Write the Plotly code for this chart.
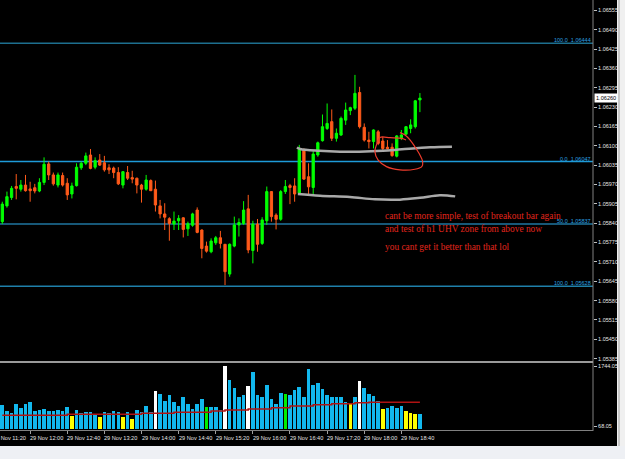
import plotly.graph_objects as go

# ---------------- data ----------------
bar_index = list(range(91))
opens = [1.05845,1.05898,1.05926,1.05963,1.05954,1.05968,1.05955,1.05959,1.05948,1.05977,
         1.06039,1.06002,1.05968,1.06000,1.05974,1.05938,1.05966,1.06026,1.06041,1.06069,
         1.06028,1.06052,1.06043,1.06026,1.06025,1.06010,1.05968,1.06010,1.05993,1.05991,
         1.05968,1.05954,1.05983,1.05954,1.05898,1.05871,1.05855,1.05837,1.05848,1.05858,
         1.05821,1.05833,1.05884,1.05817,1.05763,1.05744,1.05774,1.05791,1.05769,1.05669,
         1.05763,1.05834,1.05839,1.05888,1.05748,1.05837,1.05772,1.05848,1.05946,1.05867,
         1.05853,1.05946,1.05966,1.05965,1.05940,1.06086,1.05996,1.05960,1.06069,1.06117,
         1.06158,1.06181,1.06125,1.06136,1.06186,1.06218,1.06226,1.06279,1.06162,1.06119,
         1.06114,1.06147,1.06116,1.06095,1.06095,1.06065,1.06125,1.06139,1.06158,1.06164,
         1.06254]
highs = [1.05912,1.05946,1.05965,1.06005,1.05985,1.06002,1.05979,1.05972,1.05991,1.06061,
         1.06047,1.06010,1.06010,1.06010,1.05991,1.05976,1.06041,1.06047,1.06077,1.06089,
         1.06061,1.06072,1.06066,1.06038,1.06030,1.06028,1.06015,1.06032,1.06016,1.05993,
         1.05972,1.06002,1.05987,1.05983,1.05918,1.05907,1.05860,1.05879,1.05867,1.05860,
         1.05845,1.05875,1.05893,1.05819,1.05778,1.05789,1.05797,1.05814,1.05770,1.05772,
         1.05862,1.05856,1.05914,1.05935,1.05848,1.05854,1.05860,1.05963,1.05948,1.05873,
         1.05951,1.05985,1.05972,1.05991,1.06103,1.06091,1.06041,1.06084,1.06114,1.06205,
         1.06242,1.06222,1.06158,1.06198,1.06245,1.06231,1.06338,1.06298,1.06175,1.06147,
         1.06155,1.06153,1.06130,1.06119,1.06108,1.06136,1.06153,1.06166,1.06189,1.06254,
         1.06277]
lows = [1.05837,1.05892,1.05918,1.05920,1.05946,1.05946,1.05912,1.05940,1.05944,1.05968,
        1.05985,1.05966,1.05960,1.05963,1.05918,1.05923,1.05963,1.06019,1.06035,1.06021,
        1.06021,1.06032,1.06013,1.06005,1.05991,1.05968,1.05957,1.05985,1.05974,1.05940,
        1.05909,1.05949,1.05948,1.05879,1.05856,1.05817,1.05781,1.05817,1.05817,1.05792,
        1.05797,1.05828,1.05806,1.05722,1.05741,1.05739,1.05767,1.05755,1.05632,1.05660,
        1.05759,1.05795,1.05834,1.05739,1.05705,1.05744,1.05767,1.05834,1.05845,1.05819,
        1.05848,1.05938,1.05904,1.05912,1.05938,1.05985,1.05935,1.05935,1.06063,1.06114,
        1.06153,1.06116,1.06114,1.06133,1.06170,1.06203,1.06220,1.06158,1.06114,1.06091,
        1.06091,1.06102,1.06086,1.06088,1.06063,1.06061,1.06119,1.06136,1.06142,1.06158,
        1.06213]
closes = [1.05904,1.05929,1.05957,1.05957,1.05968,1.05949,1.05949,1.05948,1.05977,1.06038,
          1.06002,1.05972,1.06002,1.05968,1.05935,1.05965,1.06028,1.06041,1.06066,1.06024,
          1.06050,1.06035,1.06019,1.06019,1.06010,1.05972,1.06013,1.05991,1.05988,1.05968,
          1.05954,1.05985,1.05949,1.05901,1.05871,1.05860,1.05839,1.05847,1.05856,1.05819,
          1.05838,1.05871,1.05809,1.05755,1.05746,1.05780,1.05791,1.05772,1.05677,1.05769,
          1.05834,1.05842,1.05884,1.05750,1.05837,1.05769,1.05851,1.05946,1.05862,1.05853,
          1.05946,1.05963,1.05960,1.05938,1.06091,1.05988,1.05962,1.06072,1.06110,1.06164,
          1.06175,1.06125,1.06142,1.06192,1.06220,1.06228,1.06276,1.06164,1.06119,1.06114,
          1.06153,1.06108,1.06091,1.06090,1.06067,1.06133,1.06136,1.06164,1.06170,1.06251,
          1.06260]

volumes = [664,508,452,692,591,692,738,508,526,563,489,489,526,489,618,369,526,452,461,480,
           388,323,461,434,498,461,323,461,277,526,461,637,461,1043,969,784,932,738,646,877,
           701,554,683,821,600,600,618,526,1744,1357,1144,895,932,1190,1587,941,886,1209,840,701,
           1006,978,932,1089,1172,895,1661,1209,1264,1107,950,895,886,877,747,711,886,1320,1135,978,
           914,784,563,591,637,591,637,498,452,424,424]
vol_kind = ["b"] * 91
for k in (15, 21, 26, 28, 75, 82, 87, 88, 89):
    vol_kind[k] = "y"
for k in (33, 48, 53, 77):
    vol_kind[k] = "w"
for k in (44, 61):
    vol_kind[k] = "g"

vol_avg = ([378] * 14 + [406] * 16 + [434] * 7 + [461] * 8 + [498] * 3 + [526] * 5 +
           [554] * 5 + [591] * 4 + [637] * 5 + [674] * 4 + [701] * 5 + [729] * 3 + [738] * 12)

price_ticks = [1.06555, 1.06490, 1.06425, 1.06360, 1.06295, 1.06230, 1.06165, 1.06100,
               1.06035, 1.05970, 1.05905, 1.05840, 1.05775, 1.05710, 1.05645, 1.05580,
               1.05515, 1.05450, 1.05385]
vol_ticks = [1744.05, 68.05]
last_price = 1.06260

time_tick_index = [-2, 6, 14, 22, 30, 38, 46, 54, 62, 70, 78, 86]
time_tick_labels = ["29 Nov 11:20", "29 Nov 12:00", "29 Nov 12:40", "29 Nov 13:20",
                    "29 Nov 14:00", "29 Nov 14:40", "29 Nov 15:20", "29 Nov 16:00",
                    "29 Nov 16:40", "29 Nov 17:20", "29 Nov 18:00", "29 Nov 18:40"]

fibo_levels = [1.06444, 1.06047, 1.05837, 1.05628]
fibo_names = ["100.0", "0.0", "50.0", "100.0"]

# hand drawn marks (bar index, price)
upper_x = [63.5, 64.2, 68.3, 72.8, 76.9, 82.0, 86.1, 92.2, 96.9]
upper_y = [1.06094, 1.06089, 1.06083, 1.06080, 1.06080, 1.06083, 1.06088, 1.06095, 1.06097]
lower_x = [63.7, 68.5, 74.9, 80.3, 85.7, 90.0, 94.3, 97.6]
lower_y = [1.05938, 1.05932, 1.05928, 1.05920, 1.05919, 1.05925, 1.05934, 1.05930]
circle_x = [85.7, 86.8, 87.9, 88.9, 90.0, 90.6, 90.4, 88.9, 85.7, 82.8, 81.0, 80.3, 80.8,
            81.4, 83.6, 86.1, 87.0]
circle_y = [1.06144, 1.06136, 1.06119, 1.06097, 1.06069, 1.06046, 1.06030, 1.06021, 1.06019,
            1.06030, 1.06052, 1.06080, 1.06110, 1.06128, 1.06127, 1.06125, 1.06119]

notes = ["cant be more simple, test of breakout bar again",
         "and test of h1 UHV zone from above now",
         "you cant get it better than that lol"]

# ---------------- figure ----------------
W, H = 625, 459
PX = 593 / W
X_RANGE = [-0.496, 127.3]


def x_to_paper(v):
    return PX * (v - X_RANGE[0]) / (X_RANGE[1] - X_RANGE[0])


color_map = {"b": "#12b8ee", "y": "#ffff00", "w": "#ffffff", "g": "#00ee00"}

fig = go.Figure()
fig.add_trace(go.Candlestick(
    x=bar_index, open=opens, high=highs, low=lows, close=closes,
    increasing=dict(line=dict(color="#00ff00", width=1), fillcolor="#00ff00"),
    decreasing=dict(line=dict(color="#ff5a1a", width=1), fillcolor="#ff5a1a"),
    whiskerwidth=0, hoverinfo="skip", xaxis="x", yaxis="y"))

fig.add_trace(go.Scatter(x=upper_x, y=upper_y, mode="lines",
                         line=dict(color="#a9a9a9", width=2.5, shape="spline"),
                         hoverinfo="skip", xaxis="x", yaxis="y"))
fig.add_trace(go.Scatter(x=lower_x, y=lower_y, mode="lines",
                         line=dict(color="#a9a9a9", width=2.5, shape="spline"),
                         hoverinfo="skip", xaxis="x", yaxis="y"))
fig.add_trace(go.Scatter(x=circle_x, y=circle_y, mode="lines",
                         line=dict(color="#f03c2c", width=1.2, shape="spline"),
                         hoverinfo="skip", xaxis="x", yaxis="y"))

fig.add_trace(go.Bar(x=bar_index, y=volumes, width=0.78,
                     marker=dict(color=[color_map[k] for k in vol_kind], line=dict(width=0)),
                     hoverinfo="skip", xaxis="x", yaxis="y2"))
fig.add_trace(go.Scatter(x=bar_index, y=vol_avg, mode="lines",
                         line=dict(color="#b01212", width=1.5, shape="hv"),
                         hoverinfo="skip", xaxis="x", yaxis="y2"))

shapes = []
fibo_colors = ["#1d6f8f", "#1e9ad8", "#1f76a0", "#1f80aa"]
for lv, c in zip(fibo_levels, fibo_colors):
    shapes.append(dict(type="line", xref="paper", yref="y", x0=0, x1=PX, y0=lv, y1=lv,
                       line=dict(color=c, width=1.5), layer="below"))
# panel frame lines
shapes.append(dict(type="line", xref="paper", yref="paper", x0=PX, x1=PX,
                   y0=1 - 431 / H, y1=1, line=dict(color="#808080", width=1)))
shapes.append(dict(type="line", xref="paper", yref="paper", x0=0, x1=PX,
                   y0=1 - 362 / H, y1=1 - 362 / H, line=dict(color="#9a9a9a", width=2)))
shapes.append(dict(type="line", xref="paper", yref="paper", x0=0, x1=PX,
                   y0=1 - 430.5 / H, y1=1 - 430.5 / H, line=dict(color="#808080", width=1)))
# window chrome
shapes.append(dict(type="rect", xref="paper", yref="paper", x0=617 / W, x1=1, y0=0, y1=1,
                   fillcolor="#f0f0f0", line=dict(width=0)))
shapes.append(dict(type="rect", xref="paper", yref="paper", x0=0, x1=1, y0=0, y1=1 - 446 / H,
                   fillcolor="#eef0f4", line=dict(width=0)))
shapes.append(dict(type="line", xref="paper", yref="paper", x0=619 / W, x1=619 / W,
                   y0=1 - 446 / H, y1=1, line=dict(color="#a0a0a0", width=1)))

annotations = []
for lv, nm in zip(fibo_levels, fibo_names):
    annotations.append(dict(xref="paper", yref="y", x=PX - 1 / W, y=lv, xanchor="right",
                            yanchor="bottom", text=f"{nm}  {lv:.5f}", showarrow=False,
                            font=dict(family="Liberation Sans", size=5.5, color="#2aa2e2"),
                            borderpad=0, yshift=-1))
for ti, tl in zip(time_tick_index, time_tick_labels):
    annotations.append(dict(xref="paper", yref="paper", x=x_to_paper(ti), y=1 - 438 / H,
                            xanchor="left", yanchor="middle", text=tl, showarrow=False,
                            xshift=-1,
                            font=dict(family="Liberation Sans", size=5.6, color="#e6e6e6"),
                            borderpad=0))
annotations.append(dict(xref="paper", yref="y", x=PX + 1 / W, y=last_price, xanchor="left",
                        yanchor="middle", text=f"{last_price:.5f}", showarrow=False,
                        bgcolor="#ffffff", font=dict(family="Liberation Sans", size=5.6,
                                                     color="#000000"), borderpad=1))
note_y = [216.5, 228.5, 247]
for txt, py in zip(notes, note_y):
    annotations.append(dict(xref="paper", yref="paper", x=382.5 / W, y=1 - py / H,
                            xanchor="left", yanchor="middle", text=txt, showarrow=False,
                            font=dict(family="Liberation Serif", size=9.4, color="#e2261c")))

fig.update_layout(
    width=W, height=H, margin=dict(l=0, r=0, t=0, b=0),
    paper_bgcolor="#000000", plot_bgcolor="#000000", showlegend=False,
    bargap=0, shapes=shapes, annotations=annotations,
    xaxis=dict(domain=[0, PX], range=X_RANGE, anchor="y2",
               showgrid=False, zeroline=False, showline=False,
               rangeslider=dict(visible=False),
               tickmode="array", tickvals=time_tick_index, ticktext=[""] * len(time_tick_index),
               ticks="outside", ticklen=3, tickcolor="#a0a0a0", showticklabels=False),
    yaxis=dict(domain=[1 - 361 / H, 1], range=[1.053770, 1.065896], side="right",
               anchor="x", showgrid=False, zeroline=False, showline=False,
               tickmode="array", tickvals=price_ticks,
               ticktext=[f"{v:.5f}" for v in price_ticks],
               ticks="outside", ticklen=3, tickcolor="#c0c0c0",
               tickfont=dict(family="Liberation Sans", size=5.5, color="#e6e6e6")),
    yaxis2=dict(domain=[1 - 430 / H, 1 - 363 / H], range=[-27.7, 1827], side="right",
                anchor="x", showgrid=False, zeroline=False, showline=False,
                tickmode="array", tickvals=vol_ticks,
                ticktext=[f"{v:.2f}" for v in vol_ticks],
                ticks="outside", ticklen=3, tickcolor="#c0c0c0",
                tickfont=dict(family="Liberation Sans", size=5.5, color="#e6e6e6")),
)

fig.write_html("out.html", config={"displayModeBar": False})
